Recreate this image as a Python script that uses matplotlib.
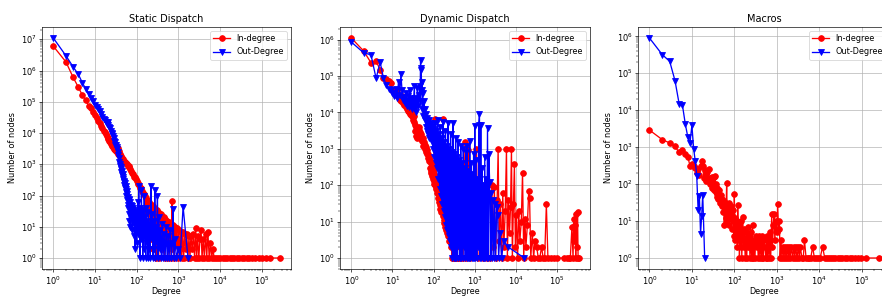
import matplotlib
matplotlib.use('Agg')
import matplotlib.pyplot as plt

# ---------------- Static Dispatch ----------------
static_in_deg = [1, 2, 3, 4, 5, 6, 7, 8, 9, 10, 11, 12, 13, 14, 15, 16, 17, 18, 19, 20,
                 21, 22, 23, 24, 25, 26, 27, 28, 29, 30, 31, 32, 33, 34, 35, 36, 37, 38, 39, 40,
                 42, 44, 46, 48, 50, 52, 55, 58, 61, 64, 67, 70, 74, 78, 82, 86, 90, 95, 100, 105,
                 110, 116, 122, 128, 135, 142, 150,
                 155, 160, 165, 170, 176, 182, 188, 194, 200, 207,
                 214, 221, 228, 236, 244, 252, 260, 270, 280, 290,
                 300, 312, 325, 338, 350, 365, 380, 395, 410, 430,
                 450, 470, 490, 515, 540, 565, 590, 620, 650, 680,
                 700, 720, 760, 800, 840, 880, 920, 970, 1020, 1080,
                 1140, 1200, 1270, 1340, 1420, 1500, 1600, 1700, 1800, 1900,
                 2000, 2150, 2300, 2450, 2600, 2750, 2900, 3100, 3300, 3500,
                 3700, 3950, 4200, 4500, 4800, 5100, 5500, 5900, 6300, 6800,
                 7200, 8000, 9000, 10000, 11500, 13000, 15000, 17000, 19000, 22000,
                 25000, 29000, 33000, 38000, 44000, 50000, 60000, 70000, 85000, 100000,
                 125000, 160000, 270000]
static_in_cnt = [6.0e6, 1.9e6, 6.0e5, 2.9e5, 1.6e5, 1.1e5, 7.5e4, 6.2e4, 4.6e4, 3.8e4,
                 3.1e4, 2.5e4, 2.1e4, 1.7e4, 1.5e4, 1.2e4, 1.05e4, 9.0e3, 8.0e3, 7.0e3,
                 6.3e3, 5.6e3, 5.0e3, 4.6e3, 4.2e3, 3.9e3, 3.6e3, 3.4e3, 3.1e3, 2.9e3,
                 3.3e3, 2.7e3, 3.0e3, 2.4e3, 3.4e3, 2.2e3, 2.6e3, 2.0e3, 2.2e3, 1.9e3,
                 1.8e3, 1.6e3, 1.5e3, 1.3e3, 1.25e3, 1.2e3, 1.1e3, 1.0e3, 900, 850,
                 800, 700, 600, 520, 480, 400, 380, 330, 300, 260,
                 240, 210, 180, 170, 140, 120, 110,
                 95, 30, 85, 12, 70, 40, 65, 8, 60, 25,
                 55, 4, 50, 18, 45, 2, 40, 12, 38, 1,
                 35, 6, 30, 1, 28, 10, 25, 2, 22, 5,
                 20, 1, 18, 3, 15, 1, 14, 4, 12, 1,
                 68, 2, 11, 1, 10, 3, 9, 1, 8, 2,
                 7, 1, 7, 1, 6, 2, 6, 1, 5, 1,
                 5, 2, 6, 1, 9, 1, 5, 1, 4, 8,
                 1, 4, 1, 6, 1, 7, 1, 3, 1, 2,
                 1, 1, 1, 1, 1, 1, 1, 1, 1, 1,
                 1, 1, 1, 1, 1, 1, 1, 1, 1, 1,
                 1, 1, 1]

static_out_deg = [1, 2, 3, 4, 5, 6, 7, 8, 9, 10, 11, 12, 13, 14, 15, 16, 17, 18, 19, 20,
                  21, 22, 23, 24, 25, 26, 27, 28, 29, 30, 31, 32, 33, 34, 35, 36, 37, 38, 39,
                  40, 41, 42, 43, 44, 45, 46, 47, 48, 49, 50, 51, 52, 53, 54, 55, 56, 57, 58, 59,
                  60, 61, 62, 63, 64, 65, 66, 67, 68, 70, 72, 74, 76, 78, 80, 82, 84, 86, 88, 90,
                  92, 94, 96, 98, 100, 103, 106, 109, 112, 115, 118, 121, 124, 127, 130, 133, 136,
                  140, 144, 148, 152, 156, 160, 165, 170, 175, 180, 186, 192, 198, 205, 212, 220,
                  228, 236, 245, 254, 263, 272, 282, 292, 303, 315, 327, 340, 355, 370, 390, 410,
                  430, 455, 480, 510, 540, 570, 600, 640, 680, 720, 750, 780, 830, 900, 1000,
                  1100, 1300, 1700]
static_out_cnt = [1.1e7, 3.0e6, 1.3e6, 7.5e5, 4.0e5, 2.6e5, 1.8e5, 1.3e5, 1.05e5, 8.0e4,
                  6.8e4, 5.8e4, 5.0e4, 4.0e4, 3.3e4, 2.9e4, 2.6e4, 2.2e4, 2.0e4, 1.8e4,
                  2.2e4, 1.6e4, 1.5e4, 1.2e4, 1.0e4, 9.0e3, 8.0e3, 7.0e3, 5.5e3, 5.0e3,
                  4.2e3, 4.0e3, 3.6e3, 3.0e3, 2.5e3, 2.0e3, 1.6e3, 1.2e3, 1.0e3,
                  900, 700, 800, 550, 600, 450, 500, 350, 400, 280, 300, 220, 250, 170, 200,
                  130, 160, 100, 140, 70,
                  110, 50, 90, 40, 80, 25, 70, 15, 60, 10, 50, 20, 45, 8, 40, 30, 12, 35, 5, 30,
                  2, 25, 8, 28, 3, 20, 60, 6, 200, 15, 40, 1, 30, 4, 150, 10, 25,
                  1, 35, 2, 100, 5, 20, 1, 40, 3, 15, 1, 30, 2, 12, 1, 200,
                  4, 25, 1, 15, 2, 150, 1, 10, 3, 100, 1, 20, 2, 8, 1, 12,
                  1, 6, 1, 10, 1, 5, 1, 8, 1, 3, 37, 1, 4, 1, 2,
                  1, 44, 1]

# ---------------- Dynamic Dispatch ----------------
dyn_in_deg = [1, 2, 3, 4, 5, 6, 7, 8, 9, 10, 11, 12, 13, 14, 15, 16, 17, 18, 19, 20,
              21, 22, 23, 24, 25, 26, 27, 28, 29, 30, 31, 32, 33, 34, 35, 36, 37, 38, 39, 40,
              41, 42, 43, 44, 45, 46, 47,
              48, 50, 52, 54, 56, 58, 60, 62, 64, 66, 68, 70, 72, 74, 76, 78, 80, 82, 84, 86,
              88, 90, 92, 94, 96, 98, 100, 102, 104, 106, 108, 110, 112, 115, 117, 120, 122,
              125, 128, 131, 134, 137, 140, 143, 146, 150, 154, 158, 162, 166, 170, 174, 178,
              182, 186, 190, 195, 200, 205, 210, 215, 220, 226, 232, 238, 245, 252, 260, 268,
              276, 284, 292, 300, 310, 320, 335, 350, 370, 390, 420, 460, 520, 580, 600, 700,
              750, 1100, 1200, 1600, 2000, 2400,
              2600, 2800, 3000, 3200, 3500, 3700, 3900, 4200, 4500, 4800,
              5100, 5500, 5900, 6200, 6600, 7000, 7400, 7800, 8200, 8700, 9200, 9700, 10300,
              11000, 11700, 12500, 13500, 14500, 15500, 16500, 17500, 19000, 20500, 21500,
              23000, 25000, 27000, 29000, 32000, 35000, 38000, 42000, 46000, 50000, 55000,
              60000, 70000, 85000, 100000, 150000, 170000, 190000, 210000, 230000, 245000,
              255000, 265000, 275000, 285000, 295000, 305000, 315000, 325000, 335000]
dyn_in_cnt = [1.1e6, 4.8e5, 2.3e5, 2.5e5, 1.5e5, 9.0e4, 8.0e4, 7.2e4, 6.5e4, 4.0e4,
              3.8e4, 3.0e4, 4.2e4, 2.6e4, 2.2e4, 2.0e4, 2.8e4, 1.8e4, 1.6e4, 2.2e4,
              1.4e4, 1.2e4, 1.5e4, 1.1e4, 1.0e4, 1.3e4, 9.0e3, 8.5e3, 1.1e4, 8.0e3,
              7.5e3, 6.0e3, 8.0e3, 5.5e3, 4.5e3, 3.0e3, 4.0e3, 2.2e3, 3.5e3, 2.0e3,
              3.0e3, 2.5e3, 4.0e3, 2.2e3, 3.2e3, 2.0e3, 2.8e3,
              1.8e3, 2.6e3, 1.6e3, 2.0e3, 1.2e3, 1.5e3, 1.0e3, 1.3e3, 800, 1.1e3, 700, 900,
              550, 700, 450, 600, 300, 500, 250, 400,
              220, 350, 180, 300, 150, 250, 130, 200, 110, 6.5e3, 100, 180, 90, 800, 80, 140, 60,
              110, 45, 90, 35, 70, 28, 60, 22, 45, 18, 35, 500, 14, 6.4e3, 11, 25,
              9, 20, 7, 15, 6, 12, 5, 10, 4, 8, 3, 7, 3, 5, 2, 4,
              1, 3, 1, 3, 1, 2, 1, 2, 1, 1, 1, 1, 1, 1.5e3, 1, 900,
              1, 1.0e3, 1, 1, 1, 1,
              100, 2, 90, 1, 40, 1.0e3, 3, 30, 1, 60,
              2, 20, 1.0e3, 1, 40, 5, 25, 1.0e3, 1, 30, 380, 2, 15,
              1, 20, 3, 10, 220, 1, 12, 2, 8, 70, 45,
              1, 5, 1, 3, 2, 1, 1, 2, 1, 1, 30,
              1, 1, 1, 1, 1, 1, 1, 1, 7, 1,
              12, 3, 8, 1, 16, 2, 18, 1, 1]

dyn_out_deg = [1, 2, 3, 4, 5, 6, 7, 8, 9, 10, 11, 12, 13, 14, 15, 16, 17, 18, 19, 20,
               21, 22, 23, 24, 25, 26, 27, 28, 29, 30, 32, 34, 35, 36, 38, 40, 42, 44, 46, 47,
               48, 49, 50, 51, 52, 53, 54, 56, 58, 60, 62, 64, 66, 68, 70, 73, 76, 79, 82, 85,
               88, 91, 94, 97, 100, 104, 108, 112, 116, 120, 125, 130, 135, 140, 145, 150, 156,
               162, 168, 174, 180, 187, 194, 201, 208, 216, 224, 232, 240, 249, 258, 267, 277,
               287, 297, 308, 319, 330, 342, 355, 368, 381, 395, 410, 425, 440, 456, 473, 490,
               508, 527, 546, 566, 587, 608, 630, 653, 677, 702, 728, 755, 782, 810, 840, 870,
               900, 935, 970, 1000, 1040, 1080, 1120, 1160, 1200, 1250, 1300, 1350, 1400, 1450,
               1500, 1560, 1620, 1680, 1750, 1820, 1890, 1960, 2040, 2120, 2200, 2300, 2400,
               2500, 2600, 2750, 2900, 3050, 3200, 3400, 3600, 3800, 4100, 4500, 5000, 6500,
               16000]
dyn_out_cnt = [8.5e5, 4.3e5, 3.8e5, 8.5e4, 2.4e5, 9.0e4, 5.8e4, 4.5e4, 4.0e4, 3.5e4,
               2.8e4, 4.5e4, 2.5e4, 7.0e4, 3.0e4, 1.1e5, 4.2e4, 2.2e4, 2.6e4, 1.8e4,
               3.5e4, 2.0e4, 1.5e4, 2.8e4, 1.4e4, 4.2e4, 1.6e4, 2.5e4, 1.2e4, 2.0e4,
               1.5e4, 5.3e4, 1.2e4, 2.5e4, 1.0e4, 4.7e4, 1.5e4, 3.0e4, 5.3e4, 2.0e4,
               2.8e5, 1.5e5, 1.6e5, 4.0e4, 7.0e4, 1.2e4, 3.5e4, 8.0e3, 2.0e4, 6.0e3,
               1.2e4, 4.0e3, 9.0e3, 3.0e3, 7.0e3, 2.5e3, 6.0e3, 2.0e3, 5.0e3, 1.8e3,
               4.5e3, 1.5e3, 4.0e3, 1.0e3, 3.5e3, 600, 5.0e3, 400, 3.0e3, 300, 6.0e3, 150, 2.5e3,
               80, 4.0e3, 50, 2.0e3, 30, 5.5e3, 20, 1.5e3, 13, 3.0e3, 8, 1.2e3, 6, 5.0e3,
               4, 1.0e3, 3, 2.5e3, 2, 800, 1, 5.0e3, 1, 700, 1, 2.0e3, 1, 600, 1, 1.5e3,
               2, 500, 1, 1.2e3, 1, 400, 1, 1.0e3, 2, 300, 1, 800, 1, 1.2e3, 1, 250, 1,
               1.6e3, 1, 400, 1, 200, 1, 700, 1, 4.2e3, 1, 500, 1, 150, 2, 4.5e3,
               8.8e3, 1, 4.5e3, 1, 300, 1, 100, 1, 600, 1, 150, 1, 3.8e3, 1, 700,
               120, 1, 60, 1, 40, 1, 30, 1, 25, 15, 1, 5, 1, 3, 2, 1]

# ---------------- Macros ----------------
macro_in_deg = [1, 2, 3, 4, 5, 6, 7, 8, 9, 10, 11, 12, 13, 14, 15, 16, 17, 18, 19, 20,
                21, 22, 23, 24, 25, 26, 27, 28, 29, 30, 31, 32, 33, 34, 35, 36, 37, 38, 39, 40,
                42, 44, 46, 48, 50, 52, 54, 56, 58, 60, 62, 64, 66, 68, 70, 72, 74, 76, 78, 80,
                83, 86, 89, 92, 95, 98, 100, 103, 106, 110, 114, 118, 120, 124, 128, 132, 136,
                140, 145, 150, 158, 165, 172, 180, 188, 196, 205, 214, 224, 234, 245, 256, 268,
                280, 293, 306, 320, 335, 350, 366, 383, 400, 420, 440, 460, 480, 500, 525, 550,
                575, 600, 630, 660, 690, 720, 760, 790, 830, 870, 900, 950, 1000, 1050, 1100,
                1150, 1200, 1260, 1320, 1400, 1480, 1560, 1650, 1750, 1850, 1950, 2050, 2200,
                2350, 2500, 2650, 2800, 3000, 3200, 3400, 3600, 3900, 4200, 4500, 4900, 5300,
                5800, 6300, 7000, 7700, 8500, 9500, 10500, 12000, 13500, 15000, 17000, 19000,
                21000, 24000, 27000, 31000, 35000, 40000, 46000, 53000, 60000, 70000, 80000,
                95000, 130000, 250000]
macro_in_cnt = [2.9e3, 1.6e3, 1.3e3, 1.05e3, 720, 830, 660, 550, 315, 355,
                300, 270, 200, 250, 180, 300, 415, 315, 150, 245,
                120, 200, 210, 130, 260, 100, 150, 120, 80, 160,
                90, 110, 160, 70, 170, 60, 100, 45, 80, 55,
                40, 70, 30, 50, 25, 40, 18, 35, 8, 30, 12, 25, 110, 10, 20, 15, 30, 8, 20, 12,
                25, 6, 15, 10, 20, 4, 54, 3, 12, 5, 10, 2, 27, 3, 8, 1, 6,
                2, 10, 1, 13, 2, 6, 1, 5, 1, 7, 2, 4, 1, 5, 1, 8,
                1, 3, 1, 4, 2, 3, 1, 4, 1, 3, 1, 4, 1, 3, 2, 1,
                4, 1, 3, 1, 5, 1, 16, 2, 8, 16, 3, 10, 5, 29, 6,
                10, 1, 3, 1, 2, 1, 2, 1, 2, 1, 2, 1, 2,
                1, 2, 1, 2, 1, 2, 1, 2, 1, 1, 3, 1, 1,
                1, 1, 2, 1, 1, 1, 1, 2, 1, 1, 1, 1,
                1, 1, 1, 1, 1, 1, 1, 1, 1, 1, 1,
                1, 1, 1]

macro_out_deg = [1, 2, 3, 4, 5, 6, 7, 8, 9, 10, 11, 12, 13, 14, 15, 16, 17, 18, 20]
macro_out_cnt = [9.0e5, 3.2e5, 2.1e5, 6.3e4, 1.5e4, 1.35e4, 4.2e3, 1.9e3, 1.3e3, 3.9e3,
                 900, 420, 170, 20, 48, 4.5, 14, 52, 1]

panels = [
    ("Static Dispatch", static_in_deg, static_in_cnt, static_out_deg, static_out_cnt),
    ("Dynamic Dispatch", dyn_in_deg, dyn_in_cnt, dyn_out_deg, dyn_out_cnt),
    ("Macros", macro_in_deg, macro_in_cnt, macro_out_deg, macro_out_cnt),
]

fig = plt.figure(figsize=(15, 296 / 58.8), dpi=58.8)
boxes = [(42, 249), (340, 250), (638, 252)]
for (left, width), (title, ix, iy, ox, oy) in zip(boxes, panels):
    ax = fig.add_axes([left / 882, 27 / 296, width / 882, 242 / 296])
    ax.plot(ix, iy, 'ro-', label='In-degree', ms=7, lw=1.6)
    ax.plot(ox, oy, 'bv-', label='Out-Degree', ms=7, lw=1.6)
    ax.set_xscale('log')
    ax.set_yscale('log')
    ax.set_xlabel('Degree', labelpad=0)
    ax.set_ylabel('Number of nodes')
    ax.set_title(title)
    ax.grid(True)
    ax.legend(loc='upper right')

fig.savefig('out.png', dpi=58.8)
